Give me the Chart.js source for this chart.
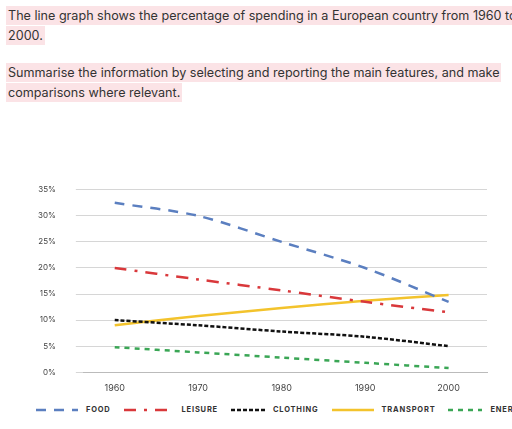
<!DOCTYPE html><html><head><script src="https://cdn.jsdelivr.net/npm/chart.js@4"></script>
<style>body{margin:0;width:512px;height:429px;background:#fff;font-family:Inter,sans-serif;overflow:hidden}
p{margin:0;position:absolute;left:6px;width:510px;font-size:12.6px;line-height:20px;color:#333;white-space:nowrap}
span{background:#fbe3e6;padding:2px 2px}
#c{position:absolute;left:0;top:165px}
#lg{position:absolute;left:36px;top:405px;display:flex;align-items:center;font-size:7.5px;font-weight:bold;color:#333;letter-spacing:0.8px}
#lg div{display:flex;align-items:center;margin-right:13px}
#lg svg{margin-right:8px}</style></head><body>
<p style="top:6px"><span>The line graph shows the percentage of spending in a European country from 1960 to</span><br><span>2000.</span></p>
<p style="top:63px"><span>Summarise the information by selecting and reporting the main features, and make</span><br><span>comparisons where relevant.</span></p>
<canvas id="c" width="512" height="232"></canvas>
<div id="lg"></div>
<script>
const years=[1960,1970,1980,1990,2000];
const food=[32.5,30,25,20,13.5];
const leisure=[20,17.8,15.7,13.5,11.5];
const clothing=[10,9,7.8,6.8,5];
const transport=[9,10.8,12.3,13.7,14.8];
const energy=[4.8,3.8,2.8,1.8,0.8];
const yTicks=[0,5,10,15,20,25,30,35];
const mk=(l,d,c,dash,w)=>({label:l,data:years.map((x,i)=>({x,y:d[i]})),borderColor:c,backgroundColor:c,borderDash:dash,borderWidth:w,pointRadius:0,tension:0.3,fill:false});
const ds=[mk('FOOD',food,'#5b7fc0',[10,8],2.5),
mk('LEISURE',leisure,'#d9383b',[12,8,3,8],2.5),
mk('CLOTHING',clothing,'#111',[4,2],2.5),
mk('TRANSPORT',transport,'#f3c32c',[],2.5),
mk('ENERGY',energy,'#3aa655',[5,5],2.5)];
const lw=[42,50,34,42,34];
document.getElementById('lg').innerHTML=ds.map((d,i)=>`<div><svg width="${lw[i]}" height="4"><line x1="0" y1="2" x2="${lw[i]}" y2="2" stroke="${d.borderColor}" stroke-width="2.5" stroke-dasharray="${d.borderDash.join(' ')}"/></svg>${d.label}</div>`).join('');
new Chart(document.getElementById('c'),{type:'line',data:{datasets:ds},
options:{responsive:false,animation:false,layout:{padding:{left:18,right:25,top:10}},
plugins:{legend:{display:false},tooltip:{enabled:false}},
scales:{x:{type:'linear',min:1956.3,max:2004.6,afterBuildTicks:a=>{a.ticks=years.map(v=>({value:v}))},grid:{display:false},border:{color:'#bbb'},ticks:{color:'#444',font:{size:9,family:'Inter'},callback:v=>String(v)}},
y:{min:0,max:35,afterBuildTicks:a=>{a.ticks=yTicks.map(v=>({value:v}))},grid:{color:'#d6d6d6'},border:{display:false},ticks:{color:'#444',font:{size:8,family:'Inter'},padding:20,callback:v=>v+'%'}}}}});
</script></body></html>
